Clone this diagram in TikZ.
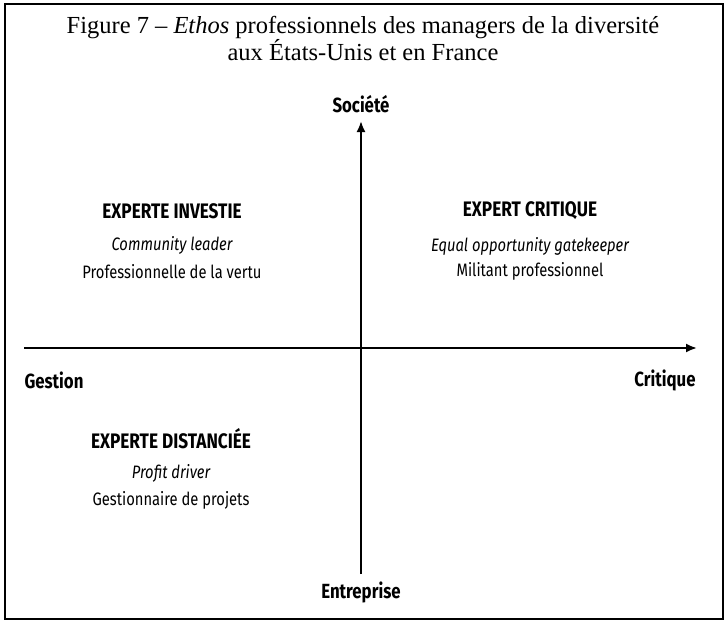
\documentclass[tikz,border=0pt]{standalone}
\usepackage{fontspec}
\setmainfont{Liberation Serif}
\setsansfont[FakeStretch=0.82]{Fira Sans}
\usepackage{tikz}
\usetikzlibrary{positioning,arrows.meta}

\begin{document}
\begin{tikzpicture}[x=1pt,y=-1pt,
        axe/.style={line width=2pt,-{Latex[length=11pt,width=9pt]}},
        pole/.style={font=\sffamily\bfseries\fontsize{20.5}{24}\selectfont},
        ethos/.style={font=\sffamily\bfseries\fontsize{21}{24}\selectfont},
        role/.style={font=\sffamily\itshape\fontsize{18}{22}\selectfont},
        metier/.style={font=\sffamily\fontsize{18}{22}\selectfont}]
    \useasboundingbox (0,0) rectangle (728,621);
    \draw[line width=1.6pt] (5,4) rectangle (723,619);

    % titre
    \node[align=center,font=\fontsize{24.5}{27}\selectfont] (titre) at (363,38)
        {Figure 7 -- \textit{Ethos} professionnels des managers de la diversité\\aux États-Unis et en France};

    % axes
    \coordinate (gauche) at (24,348);
    \coordinate (droite) at (697,348);
    \coordinate (bas) at (361,574);
    \coordinate (haut) at (361,121);
    \draw[axe] (gauche) -- (droite);
    \draw[axe] (bas) -- (haut);

    \node[pole] (societe) at (361,104) {Société};
    \node[pole] (entreprise) at (361,592) {Entreprise};
    \node[pole] (gestion) at (54,380) {Gestion};
    \node[pole] (critique) at (665,380) {Critique};

    % quadrants
    \node[ethos] (investie) at (172,211) {EXPERTE INVESTIE};
    \node[role] (leader) at (172,245) {Community leader};
    \node[metier] (vertu) at (172,272) {Professionnelle de la vertu};

    \node[ethos] (expcritique) at (530,211) {EXPERT CRITIQUE};
    \node[role] (gatekeeper) at (530,246) {Equal opportunity gatekeeper};
    \node[metier] (militant) at (530,271) {Militant professionnel};

    \node[ethos] (distanciee) at (171,439) {EXPERTE DISTANCIÉE};
    \node[role] (profit) at (171,473) {Profit driver};
    \node[metier] (projets) at (171,500) {Gestionnaire de projets};
\end{tikzpicture}
\end{document}
